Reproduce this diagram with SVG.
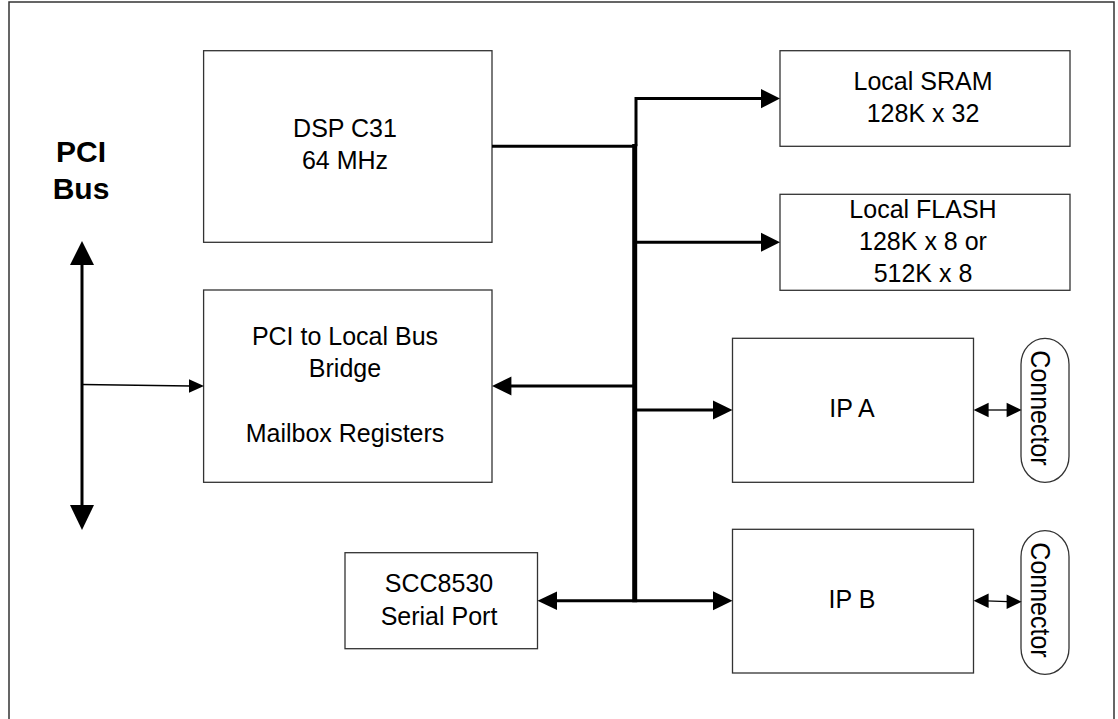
<svg xmlns="http://www.w3.org/2000/svg" width="1118" height="719" viewBox="0 0 1118 719">
<style>
.box{fill:#fff;stroke:#333;stroke-width:1.3}
.t{font-family:"Liberation Sans",Arial,sans-serif;font-size:25px;fill:#000;text-anchor:middle}
.b{font-weight:bold;font-size:30px}
.thick{stroke:#000;stroke-width:3;fill:none}
.thin{stroke:#000;stroke-width:1.3;fill:none}
.bus{stroke:#000;stroke-width:5;fill:none}
.ah{fill:#000;stroke:none}
</style>
<rect x="9" y="2" width="1105" height="740" fill="#fff" stroke="#333" stroke-width="1.5"/>

<g id="pci-bus">
<text class="t b" x="81" y="162">PCI</text>
<text class="t b" x="81" y="199">Bus</text>
<line class="thick" x1="82" y1="262" x2="82" y2="508"/>
<polygon class="ah" points="82,241 94,265 70,265"/>
<polygon class="ah" points="82,530 94,505 70,505"/>
</g>

<g id="dsp">
<rect class="box" x="203.6" y="50.7" width="288.4" height="191.6"/>
<text class="t" x="345" y="137">DSP C31</text>
<text class="t" x="345" y="169">64 MHz</text>
</g>

<g id="bridge">
<rect class="box" x="203.6" y="290" width="288.4" height="192.3"/>
<text class="t" x="345" y="345">PCI to Local Bus</text>
<text class="t" x="345" y="377">Bridge</text>
<text class="t" x="345" y="442">Mailbox Registers</text>
</g>

<g id="scc">
<rect class="box" x="345" y="552.7" width="192.5" height="96"/>
<text class="t" x="439" y="592">SCC8530</text>
<text class="t" x="439" y="625">Serial Port</text>
</g>

<g id="sram">
<rect class="box" x="780" y="50.7" width="290" height="95.6"/>
<text class="t" x="923" y="90">Local SRAM</text>
<text class="t" x="923" y="121.7">128K x 32</text>
</g>

<g id="flash">
<rect class="box" x="780" y="194.3" width="290" height="96"/>
<text class="t" x="923" y="218">Local FLASH</text>
<text class="t" x="923" y="250">128K x 8 or</text>
<text class="t" x="923" y="281.7">512K x 8</text>
</g>

<g id="ipa">
<rect class="box" x="732.5" y="338.3" width="241" height="144"/>
<text class="t" x="852" y="417">IP A</text>
</g>

<g id="ipb">
<rect class="box" x="732.5" y="529.3" width="241" height="143.7"/>
<text class="t" x="852" y="608">IP B</text>
</g>

<g id="conn-a">
<rect class="box" x="1021" y="338.3" width="48" height="144" rx="24" ry="26"/>
<text class="t" transform="translate(1045,408) rotate(90) scale(1,1.12)" x="0" y="12.5">Connector</text>
</g>

<g id="conn-b">
<rect class="box" x="1021" y="530.7" width="48" height="143.6" rx="24" ry="26"/>
<text class="t" transform="translate(1045,600) rotate(90) scale(1,1.12)" x="0" y="12.5">Connector</text>
</g>

<g id="connectors">
<line class="bus" x1="634.7" y1="144" x2="634.7" y2="602.2"/>
<line class="thick" x1="492" y1="146.3" x2="636" y2="146.3"/>
<path class="thick" d="M636,146.3 V98.6 H763"/>
<polygon class="ah" points="761,89 780,98.6 761,108.2"/>
<line class="thick" x1="635" y1="242.3" x2="763" y2="242.3"/>
<polygon class="ah" points="761,232.8 780,242.3 761,251.8"/>
<line class="thick" x1="635" y1="386" x2="509" y2="386"/>
<polygon class="ah" points="511.4,376.6 492,386 511.4,395.4"/>
<line class="thick" x1="635" y1="410" x2="715" y2="410"/>
<polygon class="ah" points="713,400.5 732.5,410 713,419.5"/>
<line class="thick" x1="635" y1="600.7" x2="715" y2="600.7"/>
<polygon class="ah" points="713,591.2 732.5,600.7 713,610.2"/>
<line class="thick" x1="635" y1="600.7" x2="555" y2="600.7"/>
<polygon class="ah" points="557,591.5 537.5,600.7 557,610"/>
<line class="thin" x1="82" y1="384.5" x2="191" y2="386"/>
<polygon class="ah" points="189,379.3 204,386 189,392.7"/>
<line class="thin" x1="986" y1="410" x2="1008" y2="410"/>
<polygon class="ah" points="988.6,402.7 973.6,410 988.6,417.3"/>
<polygon class="ah" points="1006.6,402.7 1021.6,410 1006.6,417.3"/>
<line class="thin" x1="986" y1="600.8" x2="1008" y2="601.6"/>
<polygon class="ah" points="988.6,593.5 973.6,600.7 988.6,608"/>
<polygon class="ah" points="1006.6,594.5 1021.6,601.8 1006.6,609"/>
</g>
</svg>
